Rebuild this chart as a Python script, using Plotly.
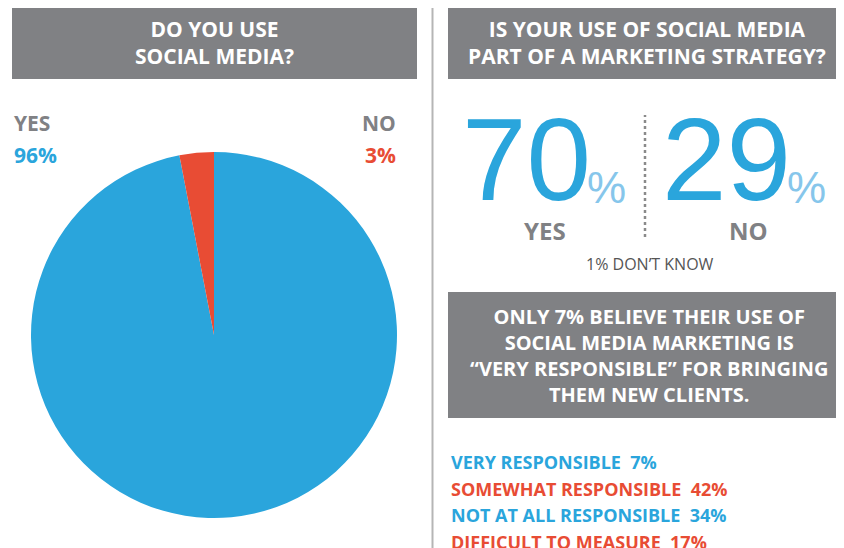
import plotly.graph_objects as go

W, H = 844, 548
OFF = 8  # page body margin

# ---- data ----
use_labels = ["YES", "NO"]
use_values = [96, 3]
use_colors = ["#2AA5DC", "#E84C34"]

strategy_labels = ["YES", "NO"]
strategy_values = [70, 29]
dont_know = 1

resp_labels = ["VERY RESPONSIBLE", "SOMEWHAT RESPONSIBLE", "NOT AT ALL RESPONSIBLE", "DIFFICULT TO MEASURE"]
resp_values = [7, 42, 34, 17]
resp_colors = ["#2AA5DC", "#E84C34", "#2AA5DC", "#E84C34"]

titles = ["DO YOU USE<br>SOCIAL MEDIA?",
          "IS YOUR USE OF SOCIAL MEDIA<br>PART OF A MARKETING STRATEGY?",
          "ONLY 7% BELIEVE THEIR USE OF<br>SOCIAL MEDIA MARKETING IS<br>\u201cVERY RESPONSIBLE\u201d FOR BRINGING<br>THEM NEW CLIENTS."]

GRAY_BOX = "#808184"
GRAY_TXT = "#808184"
BLUE = "#2AA5DC"
LIGHT_BLUE = "#86C6EB"
FONT = "Open Sans"
BIG = "Liberation Sans, Arial"


def px(x):
    return (x - OFF) / W


def py(y):
    return 1 - (y - OFF) / H


fig = go.Figure()
fig.add_trace(go.Pie(
    labels=use_labels, values=use_values, sort=False, direction="clockwise",
    rotation=0, marker=dict(colors=use_colors, line=dict(width=0)),
    textinfo="none", hoverinfo="label+value", showlegend=False,
    domain=dict(x=[px(31), px(397)], y=[py(518), py(152)]),
))

shapes = []
shapes.append(dict(type="rect", xref="paper", yref="paper", x0=px(12), x1=px(417), y0=py(79), y1=py(5),
                   fillcolor=GRAY_BOX, line=dict(width=0), layer="below"))
shapes.append(dict(type="rect", xref="paper", yref="paper", x0=px(448), x1=px(852), y0=py(79), y1=py(5),
                   fillcolor=GRAY_BOX, line=dict(width=0), layer="below"))
shapes.append(dict(type="rect", xref="paper", yref="paper", x0=px(448), x1=px(852), y0=py(418), y1=py(292),
                   fillcolor=GRAY_BOX, line=dict(width=0), layer="below"))
shapes.append(dict(type="line", xref="paper", yref="paper", x0=px(432.5), x1=px(432.5), y0=py(556), y1=py(5),
                   line=dict(color="#B5B5B5", width=2)))
shapes.append(dict(type="line", xref="paper", yref="paper", x0=px(645), x1=px(645), y0=py(237), y1=py(115),
                   line=dict(color="#8A8A8A", width=2.5, dash="dot")))

ann = []


def t(x, y, text, size, color, bold=True, xanchor="center", family=FONT, yanchor="middle"):
    ann.append(dict(x=px(x), y=py(y), xref="paper", yref="paper", text=text, showarrow=False,
                    xanchor=xanchor, yanchor=yanchor,
                    font=dict(family=family, size=size, color=color, weight=700 if bold else 400)))


# headers
t(214, 43, titles[0], 21, "white")
t(647, 43, titles[1], 21, "white")
t(649, 355, titles[2], 20, "white")

# pie labels
t(12, 123, use_labels[0], 21, GRAY_TXT, xanchor="left")
t(12, 155, f"{use_values[0]}%", 21, BLUE, xanchor="left")
t(398, 123, use_labels[1], 21, GRAY_TXT, xanchor="right")
t(398, 155, f"{use_values[1]}%", 21, use_colors[1], xanchor="right")

# big numbers
num_right = [593, 793]
pct_left = [585, 785]
label_x = [545, 748]
for i in range(2):
    t(num_right[i], 159.5, str(strategy_values[i]), 116, BLUE, bold=False, xanchor="right", family=BIG)
    t(pct_left[i], 188, "%", 44, LIGHT_BLUE, bold=False, xanchor="left", family=BIG)
    t(label_x[i], 230, strategy_labels[i], 24, GRAY_TXT)
t(650, 264, f"{dont_know}% DON\u2019T KNOW", 16, "#555555", bold=False)

# response list
for i, (lab, val, col) in enumerate(zip(resp_labels, resp_values, resp_colors)):
    t(449, 462 + i * 26.6, f"{lab}&nbsp;&nbsp;{val}%", 18, col, xanchor="left")

fig.update_layout(
    width=W, height=H, autosize=False,
    margin=dict(l=0, r=0, t=0, b=0),
    paper_bgcolor="white", plot_bgcolor="white",
    shapes=shapes, annotations=ann, showlegend=False,
)

fig.write_html("out.html")
